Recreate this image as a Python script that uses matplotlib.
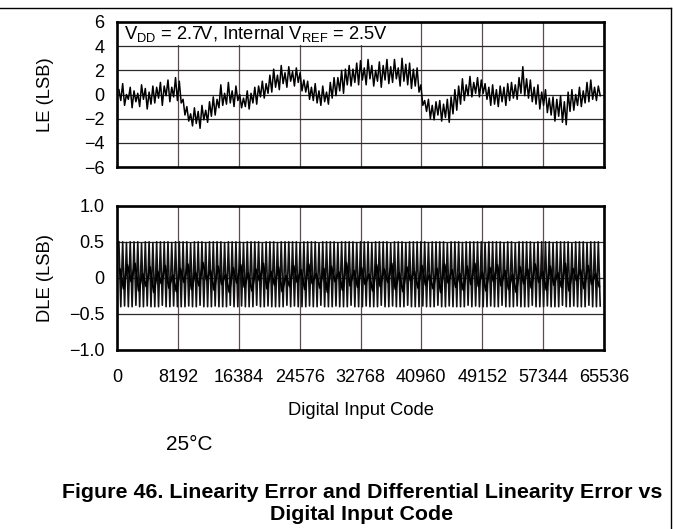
import numpy as np
import matplotlib
matplotlib.use("Agg")
import matplotlib.pyplot as plt
from matplotlib.patches import Rectangle

plt.rcParams['font.family'] = ['Liberation Sans', 'DejaVu Sans']
plt.rcParams['mathtext.fontset'] = 'custom'
plt.rcParams['mathtext.rm'] = 'Liberation Sans'
plt.rcParams['mathtext.it'] = 'Liberation Sans:italic'
plt.rcParams['mathtext.bf'] = 'Liberation Sans:bold'

# --- DATA (one hi/lo pair per block of codes) ---
CODE_START = 256
CODE_STEP = 508

X_TICKS = [0, 8192, 16384, 24576, 32768, 40960, 49152, 57344, 65536]
X_TICK_LABELS = ["0", "8192", "16384", "24576", "32768", "40960", "49152", "57344", "65536"]
LE_TICKS = [-6, -4, -2, 0, 2, 4, 6]
LE_TICK_LABELS = ["\u22126", "\u22124", "\u22122", "0", "2", "4", "6"]
DLE_TICKS = [-1.0, -0.5, 0.0, 0.5, 1.0]
DLE_TICK_LABELS = ["\u22121.0", "\u22120.5", "0", "0.5", "1.0"]

LE_HI = [
    0.4, 0.9, 0.0, 0.6, 0.3, 0.1, 0.8, 0.5, 0.2, 0.7, 0.6, 1.0, 0.7, 1.2, 0.6, 1.4,
    1.1, -0.4, -1.0, -1.6, -1.1, -1.4, -0.9, -1.3, -0.6, -0.2, -0.4, 0.8, 0.1, 1.0, 0.3, 0.7,
    0.0, -0.3, 0.3, 0.1, 0.6, 0.7, 1.1, 0.9, 1.6, 2.1, 1.6, 2.4, 1.8, 2.3, 1.9, 2.2,
    1.8, 1.2, 1.1, 0.6, 0.9, 0.3, 0.7, 0.2, 1.0, 1.4, 1.4, 2.0, 2.1, 2.4, 2.1, 2.6,
    2.8, 2.2, 2.9, 2.4, 2.0, 2.7, 2.4, 2.9, 2.3, 2.9, 2.2, 3.0, 2.5, 2.6, 2.1, 2.2,
    0.8, -0.5, -0.4, -0.9, -0.6, -0.5, -0.8, -0.4, -0.2, 0.4, 0.7, 1.3, 0.8, 1.5, 1.0, 1.4,
    1.2, 0.9, 0.6, 0.8, 0.4, 0.7, 0.6, 0.9, 1.0, 0.8, 1.4, 2.3, 1.3, 1.2, 0.6, 0.8,
    0.2, 0.4, -0.3, -0.2, -0.4, -0.1, -0.6, 0.2, 0.4, 0.0, 0.6, 0.3, 1.0, 1.2, 0.6, 0.7,
]
LE_LO = [
    -0.5, -0.9, -0.4, -1.1, -0.6, -1.0, -0.4, -1.2, -0.8, -0.7, -0.3, -0.9, -0.1, -0.6, -0.2, -0.5,
    -0.7, -1.7, -2.2, -2.6, -2.4, -2.8, -2.1, -2.3, -1.8, -1.7, -1.1, -0.9, -0.8, -0.7, -1.0, -0.5,
    -1.1, -1.0, -1.2, -0.7, -0.8, -0.2, -0.3, 0.1, 0.2, 0.6, 0.4, 0.9, 0.6, 1.1, 0.7, 1.0,
    0.3, 0.2, -0.4, -0.5, -0.7, -0.9, -0.6, -0.8, -0.3, -0.1, 0.3, 0.1, 0.8, 0.7, 1.0, 0.8,
    1.2, 0.8, 1.3, 0.7, 1.1, 0.6, 1.2, 0.9, 1.0, 1.3, 0.7, 1.1, 0.8, 0.5, 0.7, 0.2,
    -0.9, -1.4, -2.0, -2.1, -1.7, -2.2, -1.9, -2.3, -1.6, -1.3, -0.8, -0.5, -0.1, -0.2, 0.1, -0.2,
    0.1, -0.4, -0.9, -0.8, -1.0, -0.6, -0.9, -0.5, -0.3, -0.4, 0.1, -0.1, -0.3, -0.6, -0.8, -1.2,
    -0.9, -1.5, -1.7, -2.2, -1.8, -2.3, -2.5, -1.4, -1.3, -0.9, -1.0, -0.7, -0.6, -0.4, -0.5, -0.1,
]

DLE_HI = [
    0.50, 0.50, 0.49, 0.50, 0.50, 0.50, 0.48, 0.50, 0.50, 0.49, 0.50, 0.50, 0.50, 0.50, 0.49, 0.50,
    0.50, 0.50, 0.50, 0.48, 0.50, 0.50, 0.50, 0.49, 0.50, 0.50, 0.50, 0.50, 0.49, 0.50, 0.50, 0.50,
    0.50, 0.49, 0.50, 0.50, 0.50, 0.50, 0.48, 0.50, 0.50, 0.50, 0.49, 0.50, 0.50, 0.50, 0.50, 0.50,
    0.49, 0.50, 0.50, 0.50, 0.50, 0.48, 0.50, 0.50, 0.50, 0.50, 0.49, 0.50, 0.50, 0.50, 0.50, 0.49,
    0.50, 0.50, 0.50, 0.49, 0.50, 0.50, 0.50, 0.50, 0.48, 0.50, 0.50, 0.50, 0.49, 0.50, 0.50, 0.50,
    0.50, 0.50, 0.49, 0.50, 0.50, 0.50, 0.50, 0.48, 0.50, 0.50, 0.50, 0.49, 0.50, 0.50, 0.50, 0.50,
    0.50, 0.49, 0.50, 0.50, 0.50, 0.50, 0.49, 0.50, 0.50, 0.48, 0.50, 0.50, 0.50, 0.50, 0.49, 0.50,
    0.50, 0.50, 0.50, 0.49, 0.50, 0.50, 0.50, 0.50, 0.48, 0.50, 0.50, 0.50, 0.49, 0.50, 0.50, 0.50,
]
DLE_LO = [
    -0.40, -0.39, -0.40, -0.40, -0.38, -0.40, -0.40, -0.39, -0.40, -0.40, -0.40, -0.38, -0.40, -0.40, -0.39, -0.40,
    -0.40, -0.40, -0.39, -0.40, -0.40, -0.38, -0.40, -0.40, -0.40, -0.39, -0.40, -0.40, -0.40, -0.38, -0.40, -0.40,
    -0.39, -0.40, -0.40, -0.40, -0.38, -0.40, -0.40, -0.39, -0.40, -0.40, -0.40, -0.40, -0.38, -0.40, -0.39, -0.40,
    -0.40, -0.40, -0.39, -0.40, -0.40, -0.38, -0.40, -0.40, -0.40, -0.39, -0.40, -0.40, -0.40, -0.38, -0.40, -0.40,
    -0.40, -0.39, -0.40, -0.40, -0.40, -0.38, -0.40, -0.40, -0.39, -0.40, -0.40, -0.40, -0.38, -0.40, -0.40, -0.40,
    -0.39, -0.40, -0.40, -0.40, -0.38, -0.40, -0.40, -0.39, -0.40, -0.40, -0.40, -0.40, -0.38, -0.40, -0.39, -0.40,
    -0.40, -0.40, -0.39, -0.40, -0.40, -0.38, -0.40, -0.40, -0.40, -0.39, -0.40, -0.40, -0.40, -0.38, -0.40, -0.40,
    -0.40, -0.39, -0.40, -0.40, -0.40, -0.38, -0.40, -0.40, -0.39, -0.40, -0.40, -0.40, -0.38, -0.40, -0.40, -0.39,
]
DLE_CORE = [
    0.12, -0.15, 0.18, -0.05, 0.20, -0.18, 0.06, -0.12, 0.15, -0.20, 0.09, -0.08, 0.17, -0.14, 0.04, -0.19,
    0.13, -0.06, 0.19, -0.16, 0.08, -0.11, 0.21, -0.03, 0.10, -0.17, 0.16, -0.09, 0.05, -0.20, 0.14, -0.07,
    0.18, -0.13, 0.07, -0.18, 0.12, -0.04, 0.20, -0.15, 0.09, -0.10, 0.15, -0.19, 0.03, -0.12, 0.17, -0.06,
    0.11, -0.16, 0.19, -0.08, 0.06, -0.14, 0.13, -0.20, 0.16, -0.05, 0.08, -0.17, 0.21, -0.11, 0.10, -0.13,
    0.14, -0.09, 0.05, -0.18, 0.18, -0.12, 0.12, -0.06, 0.20, -0.16, 0.07, -0.19, 0.15, -0.04, 0.09, -0.14,
    0.17, -0.10, 0.04, -0.15, 0.13, -0.20, 0.19, -0.07, 0.11, -0.13, 0.06, -0.17, 0.16, -0.09, 0.20, -0.12,
    0.08, -0.18, 0.14, -0.05, 0.18, -0.11, 0.10, -0.16, 0.05, -0.20, 0.15, -0.08, 0.12, -0.14, 0.19, -0.06,
    0.09, -0.17, 0.16, -0.10, 0.07, -0.13, 0.20, -0.18, 0.13, -0.04, 0.11, -0.15, 0.17, -0.09, 0.06, -0.12,
]


def zigzag(hi, lo):
    x0 = CODE_START + np.arange(len(hi)) * CODE_STEP
    xs = np.column_stack([x0, x0 + CODE_STEP / 2]).ravel()
    ys = np.column_stack([hi, lo]).ravel()
    return xs, ys


def style_axes(ax, ylim, yticks, ylabels):
    ax.set_xlim(0, 65536)
    ax.set_ylim(*ylim)
    ax.set_xticks(X_TICKS)
    ax.set_yticks(yticks)
    ax.set_yticklabels(ylabels)
    ax.set_axisbelow(True)
    ax.yaxis.grid(True, color="#2a2a2a", linewidth=0.9)
    ax.xaxis.grid(True, color="#5a4c54", linewidth=0.9)
    ax.tick_params(length=0, labelsize=13, pad=9)
    for s in ax.spines.values():
        s.set_linewidth(1.9)
        s.set_color("black")


fig = plt.figure(figsize=(6.73, 5.29), dpi=100)

# --- LE panel ---
ax1 = fig.add_axes([117 / 673, 1 - 167 / 529, 487 / 673, 145 / 529])
style_axes(ax1, (-6, 6), LE_TICKS, LE_TICK_LABELS)
ax1.tick_params(axis="x", labelbottom=False)
ax1.add_patch(Rectangle((0, 4.1), 38000, 1.9, facecolor="white", edgecolor="none", zorder=1))
ax1.text(1000, 5.0, r"V$_{\mathrm{DD}}$ = 2.7V, Internal V$_{\mathrm{REF}}$ = 2.5V",
         fontsize=13.2, va="center", ha="left", zorder=3)
xs, ys = zigzag(LE_HI, LE_LO)
ax1.plot(xs, ys, color="black", linewidth=1.1, zorder=2)
ax1.set_ylabel("LE (LSB)", fontsize=13.2)
ax1.yaxis.set_label_coords(-0.13, 0.5)

# --- DLE panel ---
ax2 = fig.add_axes([117 / 673, 1 - 350 / 529, 487 / 673, 144.3 / 529])
style_axes(ax2, (-1, 1), DLE_TICKS, DLE_TICK_LABELS)
ax2.set_xticklabels(X_TICK_LABELS)
ax2.tick_params(axis="x", pad=14)
xs, ys = zigzag(DLE_HI, DLE_LO)
ax2.plot(xs, ys, color="#111111", linewidth=1.2, zorder=2)
xc = CODE_START + np.arange(len(DLE_CORE)) * CODE_STEP + CODE_STEP / 4
ax2.plot(xc, DLE_CORE, color="black", linewidth=1.4, zorder=2)
ax2.set_ylabel("DLE (LSB)", fontsize=13.2)
ax2.yaxis.set_label_coords(-0.13, 0.5)
ax2.set_xlabel("Digital Input Code", fontsize=13.2, labelpad=11)

# --- captions and frame ---
fig.text(166 / 673, 1 - 445 / 529, "25\u00b0C", fontsize=15, va="center", ha="left")
fig.text(362 / 673, 1 - 492 / 529, "Figure 46. Linearity Error and Differential Linearity Error vs",
         fontsize=15.4, fontweight="bold", ha="center", va="center")
fig.text(362 / 673, 1 - 514 / 529, "Digital Input Code",
         fontsize=15.4, fontweight="bold", ha="center", va="center")
fig.add_artist(plt.Line2D([0, 670.5 / 673], [1 - 8 / 529, 1 - 8 / 529], color="black", linewidth=1.0))
fig.add_artist(plt.Line2D([670.5 / 673, 670.5 / 673], [1 - 8 / 529, 0], color="black", linewidth=1.0))

fig.savefig("out.png", dpi=100)
